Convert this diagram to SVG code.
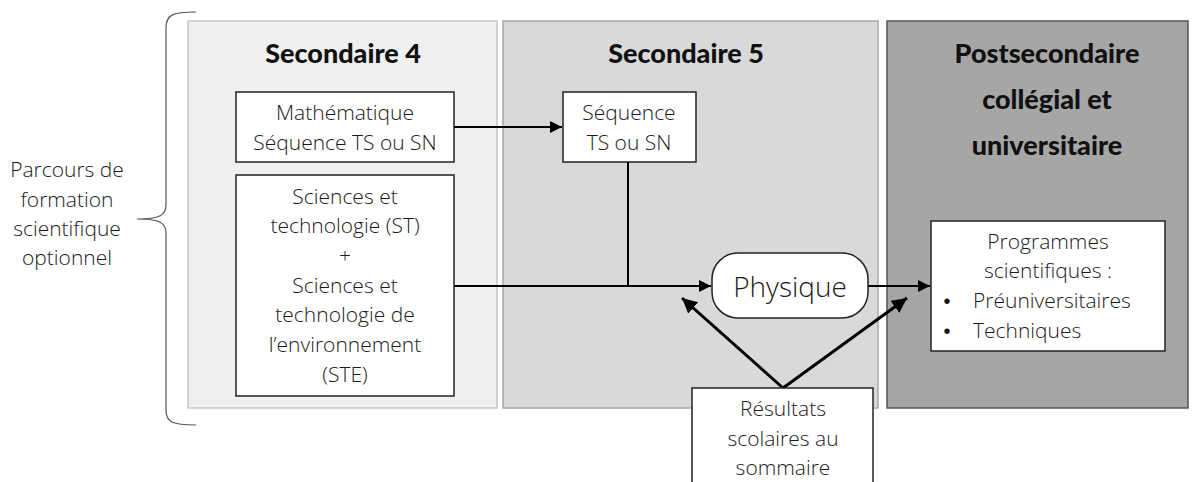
<svg xmlns="http://www.w3.org/2000/svg" width="1193" height="482" viewBox="0 0 1193 482">
  <style>
    .t { font-family: "Open Sans", "Liberation Sans", sans-serif; font-weight: 300; font-size: 21px; fill: #1a1a1a; text-anchor: middle; }
    .h { font-family: "Lato", "Liberation Sans", sans-serif; font-weight: 900; font-size: 27px; fill: #111; text-anchor: middle; }
    .box { fill: #fff; stroke: #222; stroke-width: 1.5; }
    .ln { fill: none; stroke: #000; stroke-width: 2; }
    .lnb { fill: none; stroke: #000; stroke-width: 3; }
    .bul { font-family: "Liberation Sans", sans-serif; font-size: 20px; fill: #111; text-anchor: middle; }
  </style>
  <defs>
    <marker id="ah" viewBox="0 0 10 10" refX="10" refY="5" markerWidth="6" markerHeight="6" markerUnits="strokeWidth" orient="auto">
      <path d="M0,0 L10,5 L0,10 z" fill="#000"/>
    </marker>
    <marker id="ahb" viewBox="0 0 10 10" refX="10" refY="5" markerWidth="5" markerHeight="5" markerUnits="strokeWidth" orient="auto">
      <path d="M0,0 L10,5 L0,10 z" fill="#000"/>
    </marker>
  </defs>

  <!-- stage panels -->
  <g id="panel-sec4">
    <rect x="188" y="21" width="309" height="387" fill="#f0f0f0" stroke="#c8c8c8" stroke-width="1.5"/>
    <text class="h" x="343" y="63">Secondaire 4</text>
  </g>
  <g id="panel-sec5">
    <rect x="503" y="21" width="375" height="387" fill="#d9d9d9" stroke="#a8a8a8" stroke-width="1.5"/>
    <text class="h" x="686" y="63">Secondaire 5</text>
  </g>
  <g id="panel-post">
    <rect x="887" y="21" width="301" height="387" fill="#a6a6a6" stroke="#555" stroke-width="1.5"/>
    <text class="h" x="1047" y="63">Postsecondaire</text>
    <text class="h" x="1047" y="109">collégial et</text>
    <text class="h" x="1047" y="155">universitaire</text>
  </g>

  <!-- left brace and caption -->
  <g id="brace">
    <path d="M196,12 C172,12 166,15 166,28 L166,205 C166,215 160,219 137,219 C160,219 166,223 166,233 L166,410 C166,422 172,425 196,425" fill="none" stroke="#555" stroke-width="1.2"/>
    <text class="t" x="67" y="177">Parcours de</text>
    <text class="t" x="67" y="207">formation</text>
    <text class="t" x="67" y="236">scientifique</text>
    <text class="t" x="67" y="265">optionnel</text>
  </g>

  <!-- connectors -->
  <g id="connectors">
    <line class="ln" x1="454" y1="127" x2="562" y2="127" marker-end="url(#ah)"/>
    <line class="ln" x1="628" y1="162" x2="628" y2="286"/>
    <line class="ln" x1="454" y1="286" x2="711" y2="286" marker-end="url(#ah)"/>
    <line class="ln" x1="868" y1="286" x2="930" y2="286" marker-end="url(#ah)"/>
    <line class="lnb" x1="783" y1="388" x2="682" y2="298" marker-end="url(#ahb)"/>
    <line class="lnb" x1="783" y1="388" x2="907" y2="298" marker-end="url(#ahb)"/>
  </g>

  <g id="node-math">
    <rect class="box" x="236" y="92" width="218" height="70"/>
    <text class="t" x="345" y="120">Mathématique</text>
    <text class="t" x="345" y="150">Séquence TS ou SN</text>
  </g>

  <g id="node-sciences">
    <rect class="box" x="236" y="175" width="218" height="221"/>
    <text class="t" x="345" y="204">Sciences et</text>
    <text class="t" x="345" y="233">technologie (ST)</text>
    <text class="t" x="345" y="263">+</text>
    <text class="t" x="345" y="293">Sciences et</text>
    <text class="t" x="345" y="322">technologie de</text>
    <text class="t" x="345" y="352">l’environnement</text>
    <text class="t" x="345" y="382">(STE)</text>
  </g>

  <g id="node-sequence">
    <rect class="box" x="563" y="92" width="133" height="70"/>
    <text class="t" x="629" y="120">Séquence</text>
    <text class="t" x="629" y="150">TS ou SN</text>
  </g>

  <g id="node-physique">
    <rect class="box" x="712" y="253" width="156" height="65" rx="26"/>
    <text class="t" x="790" y="297" style="font-size:28px">Physique</text>
  </g>

  <g id="node-programmes">
    <rect class="box" x="931" y="221" width="234" height="130"/>
    <text class="t" x="1048" y="249">Programmes</text>
    <text class="t" x="1048" y="278">scientifiques :</text>
    <text class="bul" x="947" y="308">•</text>
    <text class="t" x="973" y="308" style="text-anchor:start">Préuniversitaires</text>
    <text class="bul" x="947" y="338">•</text>
    <text class="t" x="973" y="338" style="text-anchor:start">Techniques</text>
  </g>

  <g id="node-resultats">
    <rect class="box" x="692" y="388" width="181" height="110"/>
    <text class="t" x="783" y="416">Résultats</text>
    <text class="t" x="783" y="446">scolaires au</text>
    <text class="t" x="783" y="475">sommaire</text>
  </g>
</svg>
